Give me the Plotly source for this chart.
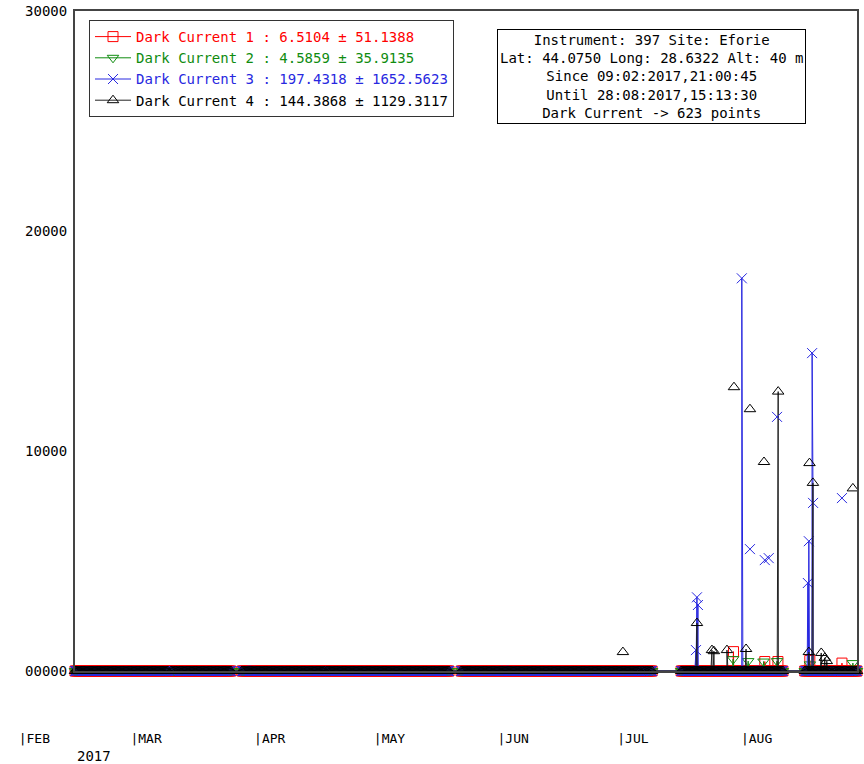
import pandas as pd
import plotly.graph_objects as go

# ---------------- data ----------------
series_names = ["Dark Current 1", "Dark Current 2", "Dark Current 3", "Dark Current 4"]
series_means = [6.5104, 4.5859, 197.4318, 144.3868]
series_stds = [51.1388, 35.9135, 1652.5623, 1129.3117]

# observation windows in which every channel read ~0 (start, end, readings)
window_starts = ["2017-02-09 21:00:45", "2017-03-06 10:00", "2017-03-08 23:00", "2017-03-24 12:00",
                 "2017-04-15 05:00", "2017-05-19 12:00", "2017-07-04 17:00", "2017-07-14 17:00",
                 "2017-08-15 07:00", "2017-08-22 12:00"]
window_ends = ["2017-03-05 14:00", "2017-03-08 16:00", "2017-03-21 17:00", "2017-04-14 17:00",
               "2017-05-16 10:00", "2017-07-04 05:00", "2017-07-07 07:00", "2017-08-09 17:00",
               "2017-08-22 00:00", "2017-08-28 15:13:30"]
window_counts = [82, 8, 44, 73, 108, 158, 9, 90, 23, 21]
baseline_value = 0

# readings above baseline that are joined to the series line
dc1_spike_times = ["2017-07-28 02:00", "2017-08-05 02:00", "2017-08-08 10:30", "2017-08-16 14:00", "2017-08-24 19:00"]
dc1_spike_values = [880, 430, 430, 480, 360]
dc2_spike_times = ["2017-07-28 00:00", "2017-07-31 20:00", "2017-08-04 18:00", "2017-08-08 05:00", "2017-08-16 14:00", "2017-08-27 14:00"]
dc2_spike_values = [540, 450, 430, 450, 300, 360]
dc3_spike_times = ["2017-07-18 12:00", "2017-07-18 18:00", "2017-07-19 00:00", "2017-07-30 05:00",
                   "2017-08-16 02:00", "2017-08-16 08:00", "2017-08-17 04:00", "2017-08-17 10:00"]
dc3_spike_values = [950, 3350, 3000, 17850, 4000, 5900, 14450, 7640]
dc4_spike_times = ["2017-07-18 18:00", "2017-07-22 14:00", "2017-07-23 02:00", "2017-07-26 10:00",
                   "2017-07-31 07:00", "2017-08-08 12:00", "2017-08-16 08:00", "2017-08-17 09:00",
                   "2017-08-19 12:00", "2017-08-20 10:00", "2017-08-20 22:00"]
dc4_spike_values = [2180, 950, 900, 950, 1000, 12700, 860, 8550, 820, 600, 450]

# isolated readings (drawn without a connecting line)
dc1_iso_times, dc1_iso_values = [], []
dc2_iso_times, dc2_iso_values = [], []
dc3_iso_times = ["2017-08-01 07:00", "2017-08-05 02:00", "2017-08-06 02:00", "2017-08-08 05:00", "2017-08-24 19:00"]
dc3_iso_values = [5540, 5040, 5130, 11550, 7860]
dc4_iso_times = ["2017-06-29 20:00", "2017-07-28 05:00", "2017-08-01 07:00", "2017-08-04 21:00", "2017-08-16 12:00", "2017-08-27 14:00"]
dc4_iso_values = [860, 12900, 11900, 9500, 9450, 8300]

y_tickvals = [0, 10000, 20000, 30000]
y_ticktext = ["00000", "10000", "20000", "30000"]
month_tickvals = ["2017-02-01", "2017-03-01", "2017-04-01", "2017-05-01", "2017-06-01", "2017-07-01", "2017-08-01"]
month_ticktext = ["|FEB", "|MAR", "|APR", "|MAY", "|JUN", "|JUL", "|AUG"]
year_label = "2017"
info_lines = ["Instrument: 397 Site: Eforie",
              "Lat: 44.0750 Long: 28.6322 Alt: 40 m",
              "Since 09:02:2017,21:00:45",
              "Until 28:08:2017,15:13:30",
              "Dark Current -&gt; 623 points"]
period_start = "2017-02-09 21:00:45"
period_end = "2017-08-28 15:13:30"

# ---------------- styles ----------------
colors = ["#ff0000", "#108c10", "#2828e0", "#000000"]
line_colors = ["#ff0000", "#108c10", "#2828e0", "#222222"]
symbols = ["square-open", "triangle-down-open", "x-thin-open", "triangle-up-open"]
FONT = "DejaVu Sans Mono"
W, H = 864, 764
L_PX, R_PX, T_PX, B_PX = 75, 857, 11, 671
PH = B_PX - T_PX


def py(y):  # page pixel -> paper fraction
    return (B_PX - y) / PH


def px(x):
    return x / W


# ---------------- build ----------------
base_times = []
for s, e, n in zip(window_starts, window_ends, window_counts):
    base_times.extend(pd.date_range(s, e, periods=n))
base = pd.DataFrame({"t": base_times, "v": baseline_value})

spikes = [(dc1_spike_times, dc1_spike_values), (dc2_spike_times, dc2_spike_values),
          (dc3_spike_times, dc3_spike_values), (dc4_spike_times, dc4_spike_values)]
isos = [(dc1_iso_times, dc1_iso_values), (dc2_iso_times, dc2_iso_values),
        (dc3_iso_times, dc3_iso_values), (dc4_iso_times, dc4_iso_values)]

fig = go.Figure()
for i in range(4):
    st, sv = spikes[i]
    df = pd.concat([base, pd.DataFrame({"t": pd.to_datetime(st), "v": sv})]).sort_values("t", kind="stable")
    label = f"{series_names[i]} : {series_means[i]:.4f} ± {series_stds[i]:.4f}"
    fig.add_trace(go.Scatter(
        x=df["t"], y=df["v"], mode="lines+markers",
        name=f"<span style='color:{colors[i]}'>{label}</span>",
        line=dict(color=line_colors[i], width=1),
        marker=dict(symbol=symbols[i], size=10, color=colors[i], line=dict(width=1, color=colors[i])),
        cliponaxis=False, hoverinfo="skip"))
for i in range(4):
    it, iv = isos[i]
    if not it:
        continue
    fig.add_trace(go.Scatter(
        x=pd.to_datetime(it), y=iv, mode="markers", showlegend=False,
        marker=dict(symbol=symbols[i], size=10, color=colors[i], line=dict(width=1, color=colors[i])),
        cliponaxis=False, hoverinfo="skip"))

# helper axis carrying the month labels
fig.add_trace(go.Scatter(x=[], y=[], xaxis="x2", yaxis="y", showlegend=False, hoverinfo="skip"))

fig.update_layout(
    width=W, height=H,
    margin=dict(l=0, r=0, t=T_PX, b=H - B_PX, pad=0, autoexpand=False),
    paper_bgcolor="white", plot_bgcolor="rgba(0,0,0,0)",
    font=dict(family=FONT, size=14, color="black"),
    showlegend=True,
    legend=dict(x=px(89), y=py(20), xanchor="left", yanchor="top",
                bgcolor="white", bordercolor="#333", borderwidth=1,
                font=dict(family=FONT, size=14), itemwidth=36, tracegroupgap=0),
    xaxis=dict(domain=[L_PX / W, R_PX / W], range=[period_start, period_end], type="date",
               showgrid=False, zeroline=False, showticklabels=False, ticks="", automargin=False,
               showline=True, linecolor="#444", linewidth=2, mirror=True),
    xaxis2=dict(domain=[0, 1], anchor="y", type="date", automargin=False,
                range=["2017-01-27 07:45", "2017-08-31 20:00"],
                tickmode="array", tickvals=month_tickvals, ticktext=month_ticktext,
                ticklabelposition="outside right", ticks="", ticklabelstandoff=58,
                ticklabeloverflow="allow", tickfont=dict(family=FONT, size=13),
                showgrid=False, zeroline=False, showline=False),
    yaxis=dict(domain=[0, 1], range=[0, 30000], anchor="x", automargin=False,
               tickmode="array", tickvals=y_tickvals, ticktext=y_ticktext,
               ticks="", ticklabelstandoff=3, ticklabeloverflow="allow",
               tickfont=dict(family=FONT, size=14),
               showgrid=False, zeroline=False,
               showline=True, linecolor="#444", linewidth=2, mirror=True),
    annotations=[
        dict(text="<br>".join(info_lines), xref="paper", yref="paper",
             x=px(651), y=py(76), xanchor="center", yanchor="middle",
             showarrow=False, align="center", bgcolor="white", bordercolor="black",
             borderwidth=1, borderpad=2, font=dict(family=FONT, size=14)),
        dict(text=year_label, xref="x", yref="paper", x=period_start,
             y=py(756), xanchor="left", yanchor="middle",
             showarrow=False, font=dict(family=FONT, size=14)),
    ],
)

fig.write_html("out.html", config={"displayModeBar": False},
               post_script="document.body.style.margin='0px';")
